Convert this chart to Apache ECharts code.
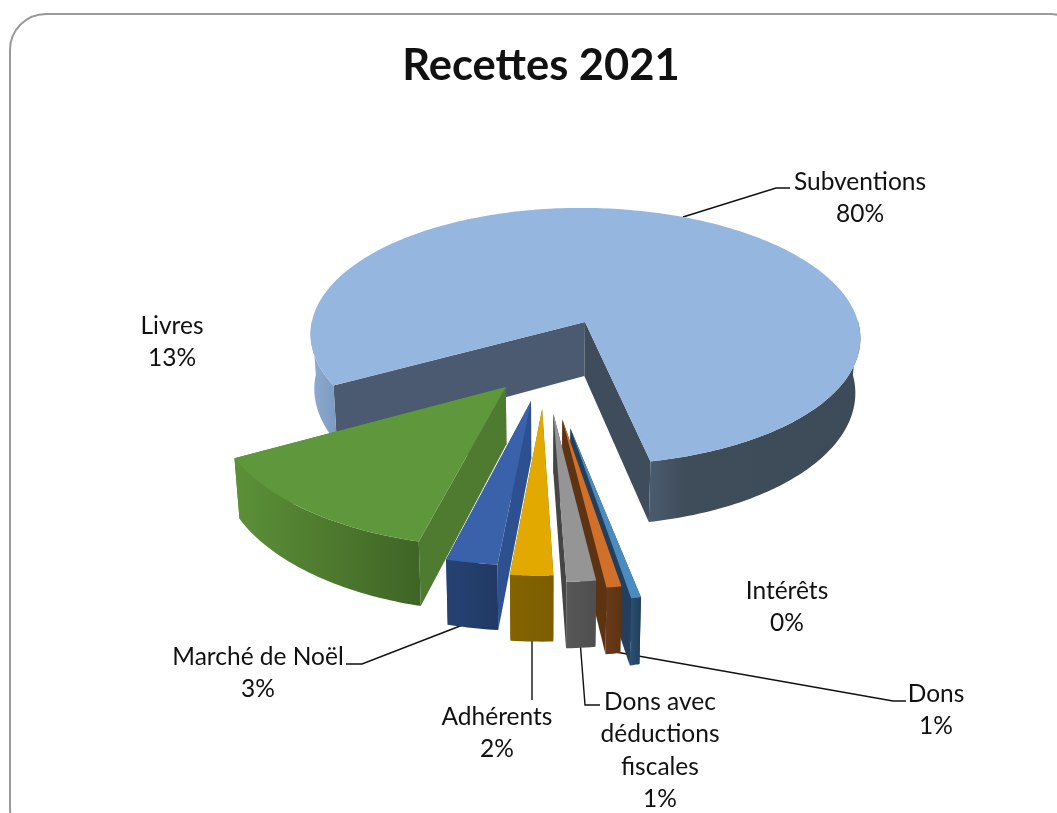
<!DOCTYPE html>
<html><head><meta charset="utf-8">
<style>html,body{margin:0;padding:0;background:#fff;overflow:hidden}#c{width:1057px;height:813px}</style>
<script src="https://cdn.jsdelivr.net/npm/echarts@6/dist/echarts.min.js"></script>
</head><body><div id="c"></div>
<script>
// ---- data (drawn clockwise from Subventions) ----
const categories = ['Subventions','Intérêts','Dons','Dons avec déductions fiscales','Adhérents','Marché de Noël','Livres'];
const values = [79.72, 0.47, 0.72, 1.42, 2.08, 2.53, 13.06];
const explosion = [0.345, 0.465, 0.40, 0.36, 0.325, 0.275, 0.22];
const percentLabels = ['80%','0%','1%','1%','2%','3%','13%'];
const paintOrder = [0,6,1,2,3,4,5];

// ---- styles ----
const topColors = ['#95B6DE','#4A8CC0','#D1702A','#959595','#E2A900','#3A62AA','#5F983C'];
const sideColors = [['#4B5A70','#3E4C5C'],['#243F5C','#243F5C'],['#5E3312','#5E3312'],['#454545','#454545'],['#7F6000','#7F6000'],['#2D5190','#2D5190'],['#4F7B30','#4F7B30']];
const wallStops = [
  [[0,'#8EADD4'],[0.05,'#7C98BE'],[0.61,'#4C5D72'],[0.68,'#3F4C5A'],[1,'#3D4A58']],
  [[0,'#2A4F70'],[1,'#223F5C']],
  [[0,'#68391A'],[1,'#5E3312']],
  [[0,'#575757'],[1,'#4E4E4E']],
  [[0,'#846400'],[1,'#7C5E00']],
  [[0,'#264272'],[1,'#213A65']],
  [[0,'#5C9138'],[0.5,'#4E7A2E'],[1,'#3F6526']]
];
const geo = {cx:545, cy:363, rx:283, ry:136, k:0.115, depth:56, start:241.6, shrink:0.016};
const labelLayout = [
  {lines:['Subventions','80%'], x:860, y:182},
  {lines:['Livres','13%'], x:172, y:326},
  {lines:['Intérêts','0%'], x:787, y:591},
  {lines:['Marché de Noël','3%'], x:258, y:657},
  {lines:['Adhérents','2%'], x:497, y:717},
  {lines:['Dons avec','déductions','fiscales','1%'], x:660, y:702},
  {lines:['Dons','1%'], x:936, y:694}
];
const leaders = [
  [[683,217],[776,188],[790,188]],
  [[473,621],[362,664],[346,664]],
  [[532,637],[532,700]],
  [[580,640],[585,705],[600,705]],
  [[610,651],[893,701],[906,701]]
];

const total = values.reduce((a,b)=>a+b,0);
const rad = d => d*Math.PI/180;
let acc = geo.start;
const slices = values.map(v => { const a0 = acc, a1 = acc + v/total*360; acc = a1; return {a0,a1}; });

function proj(X,Y,z){
  const s = 1/(1-geo.k*Y);
  return [geo.cx + geo.rx*X*s*(1-geo.shrink*z), geo.cy + geo.ry*Y*s + geo.depth*s*z];
}
function renderItem(params, api){
  const i = paintOrder[params.dataIndex];
  const {a0,a1} = slices[i];
  const mid = rad((a0+a1)/2);
  const e = explosion[i];
  const ox = e*Math.sin(mid), oy = -e*Math.cos(mid);
  const pt = (deg,z)=>proj(ox+Math.sin(rad(deg)), oy-Math.cos(rad(deg)), z);
  const apexT = proj(ox,oy,0), apexB = proj(ox,oy,1);
  const angs = [];
  const n = Math.max(4,Math.ceil(a1-a0));
  for(let j=0;j<=n;j++) angs.push(a0+(a1-a0)*j/n);
  const ch = [];
  const poly = (points,fill)=>ch.push({type:'polygon',shape:{points},style:{fill,stroke:'none'}});
  // cut walls
  [a0,a1].forEach((a,w)=>{
    poly([apexT,pt(a,0),pt(a,1),apexB], sideColors[i][w]);
  });
  // outer wall: front-facing runs only
  const xs = angs.map(a=>pt(a,0)[0]);
  const gx0 = Math.min(...xs), gx1 = Math.max(...xs);
  const grad = new echarts.graphic.LinearGradient(gx0,0,gx1,0,
     wallStops[i].map(s=>({offset:s[0],color:s[1]})),true);
  let run=[];
  const flush=()=>{ if(run.length>1){
      poly(run.map(a=>pt(a,0)).concat(run.slice().reverse().map(a=>pt(a,1))),grad);
    } run=[]; };
  angs.forEach(a=>{ if(Math.cos(rad(a))<0.02) run.push(a); else flush(); });
  flush();
  // top face
  poly([apexT].concat(angs.map(a=>pt(a,0))), topColors[i]);
  return {type:'group',children:ch};
}

const graphics = [
  {type:'rect',shape:{x:10,y:14,width:1076,height:830,r:36},style:{fill:'none',stroke:'#9a9a9a',lineWidth:2},z:-1}
];
leaders.forEach(p=>graphics.push({type:'polyline',shape:{points:p},style:{fill:'none',stroke:'#111',lineWidth:1.4},z:1}));
labelLayout.forEach(l=>l.lines.forEach((t,j)=>graphics.push({
  type:'text',x:l.x,y:l.y+j*32.5,
  style:{text:t,font:'24.5px Lato',fill:'#111',textAlign:'center',textVerticalAlign:'middle'},z:6})));

const chart = echarts.init(document.getElementById('c'),null,{renderer:'canvas'});
chart.setOption({
  animation:false,
  backgroundColor:'#fff',
  title:{text:'Recettes 2021',left:536,top:39,textAlign:'center',
    textStyle:{fontFamily:'Lato',fontWeight:'bold',fontSize:43.5,color:'#111'}},
  graphic:graphics,
  series:[{type:'custom',z:2,coordinateSystem:'none',renderItem,
    data:paintOrder.map(i=>({name:categories[i],value:values[i]})),silent:true}]
});
</script></body></html>
